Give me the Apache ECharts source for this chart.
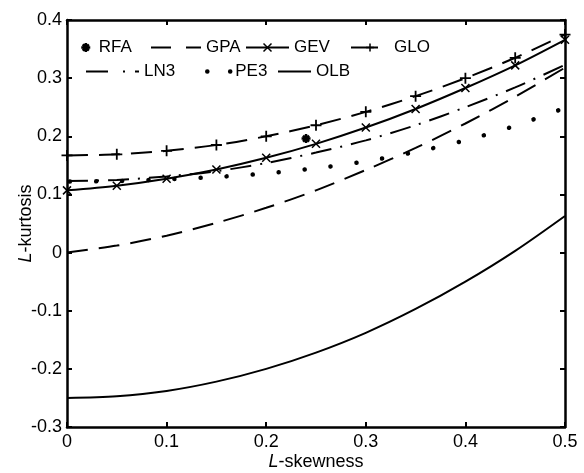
<!DOCTYPE html>
<html><head><meta charset="utf-8">
<script src="https://cdn.jsdelivr.net/npm/echarts@6/dist/echarts.min.js"></script>
<style>html,body{margin:0;padding:0;background:#fff}#c{width:584px;height:473px}</style>
</head><body><div id="c"></div>
<script>
// L-skewness grid
const skew = [0, 0.05, 0.1, 0.15, 0.2, 0.25, 0.3, 0.35, 0.4, 0.45, 0.5];
// L-kurtosis per distribution
const gpaK = [0, 0.012, 0.029, 0.051, 0.077, 0.107, 0.142, 0.180, 0.222, 0.268, 0.318];
const gevK = [0.107, 0.115, 0.127, 0.143, 0.163, 0.187, 0.215, 0.247, 0.283, 0.322, 0.366];
const gloK = [0.167, 0.169, 0.175, 0.185, 0.200, 0.219, 0.242, 0.269, 0.300, 0.335, 0.375];
const ln3K = [0.123, 0.125, 0.131, 0.140, 0.154, 0.172, 0.193, 0.219, 0.250, 0.284, 0.323];
const pe3K = [0.122, 0.123, 0.126, 0.130, 0.136, 0.145, 0.157, 0.173, 0.193, 0.218, 0.249];
const olbK = [-0.250, -0.247, -0.238, -0.222, -0.200, -0.172, -0.138, -0.097, -0.050, 0.003, 0.063];
// regional average point
const rfaPoint = [0.240, 0.196];
// axis ticks
const xTicks = {min: 0, max: 0.5, step: 0.1};
const yTicks = {min: -0.3, max: 0.4, step: 0.1};

const FONT = 'Liberation Sans, Arial, sans-serif';
const pairs = arr => skew.map((x, i) => [x, arr[i]]);
const PLUS = 'path://M0,5L10,5M5,0L5,10';
const CROSS = 'path://M0,0L10,10M0,10L10,0';
const AST = 'path://M5,0L5,10M0,5L10,5M1.6,1.6L8.4,8.4M1.6,8.4L8.4,1.6';
const fmt = v => String(+v.toFixed(1));

const axisBase = {
  type: 'value',
  axisLine: {show: true, onZero: false, lineStyle: {color: '#000', width: 2.5}},
  axisTick: {show: true, inside: true, length: 5, lineStyle: {color: '#000', width: 2}},
  splitLine: {show: false}
};
const nameStyle = {
  fontSize: 18, fontFamily: FONT, color: '#000',
  rich: {i: {fontStyle: 'italic', fontSize: 18, fontFamily: FONT, color: '#000'}}
};

const legTxt = {fontSize: 17, fontFamily: FONT, color: '#000'};
function leg(item, left, top, w, h) {
  return {data: [item], left: left, top: top, itemWidth: w, itemHeight: h || 10,
    padding: 0, selectedMode: false, textStyle: legTxt, symbolKeepAspect: true};
}

const option = {
  animation: false,
  backgroundColor: '#fff',
  grid: {left: 67, right: 19, top: 20, bottom: 46, containLabel: false, outerBoundsMode: 'none'},
  xAxis: [
    Object.assign({}, axisBase, {
      position: 'bottom', min: xTicks.min, max: xTicks.max, interval: xTicks.step,
      axisLabel: {formatter: fmt, color: '#000', fontSize: 18, fontFamily: FONT, margin: 6},
      name: '{i|L}-skewness', nameLocation: 'middle', nameGap: 26, nameMoveOverlap: false,
      nameTextStyle: nameStyle
    }),
    Object.assign({}, axisBase, {
      position: 'top', min: xTicks.min, max: xTicks.max, interval: xTicks.step,
      axisLabel: {show: false}
    })
  ],
  yAxis: [
    Object.assign({}, axisBase, {
      position: 'left', min: yTicks.min, max: yTicks.max, interval: yTicks.step,
      axisLabel: {formatter: fmt, color: '#000', fontSize: 18, fontFamily: FONT, margin: 5},
      name: '{i|L}-kurtosis', nameLocation: 'middle', nameGap: 32, nameMoveOverlap: false,
      nameTextStyle: nameStyle
    }),
    Object.assign({}, axisBase, {
      position: 'right', min: yTicks.min, max: yTicks.max, interval: yTicks.step,
      axisLabel: {show: false}
    })
  ],
  legend: [
    leg({name: 'RFA', itemStyle: {borderWidth: 2.5, opacity: 1}}, 80, 39, 16, 9),
    leg({name: 'GPA', lineStyle: {type: [20, 15], width: 2}, itemStyle: {opacity: 0}}, 150, 39, 50),
    leg({name: 'GEV', itemStyle: {borderWidth: 1.5}}, 245, 39, 43),
    leg({name: 'GLO', lineStyle: {type: [27, 20], width: 2}, itemStyle: {borderWidth: 1.5}}, 350, 39, 38),
    leg({name: 'LN3', lineStyle: {type: [22, 15, 2, 10], width: 2}, itemStyle: {opacity: 0}}, 85, 63, 53),
    leg({name: 'PE3', lineStyle: {type: [0.1, 22.8], width: 4.5, cap: 'round', dashOffset: 0}, itemStyle: {opacity: 0}}, 205, 63, 23),
    leg({name: 'OLB', lineStyle: {type: 'solid', width: 2}, itemStyle: {opacity: 0}}, 277, 63, 33)
  ],
  series: [
    {name: 'RFA', type: 'scatter', data: [rfaPoint], symbol: AST, symbolSize: 9, z: 5,
     itemStyle: {color: '#000', borderColor: '#000', borderWidth: 2.5, opacity: 1}},
    {name: 'GPA', type: 'line', data: pairs(gpaK), smooth: 0.3, symbol: 'none',
     lineStyle: {color: '#000', width: 2, type: [21, 11]}, itemStyle: {color: '#000'}},
    {name: 'GEV', type: 'line', data: pairs(gevK), smooth: 0.3, symbol: CROSS, symbolSize: 8, showAllSymbol: true,
     lineStyle: {color: '#000', width: 2, type: 'solid'},
     itemStyle: {color: '#000', borderColor: '#000', borderWidth: 1.5}},
    {name: 'GLO', type: 'line', data: pairs(gloK), smooth: 0.3, symbol: PLUS, symbolSize: 11, showAllSymbol: true,
     lineStyle: {color: '#000', width: 2, type: [21, 11]},
     itemStyle: {color: '#000', borderColor: '#000', borderWidth: 1.8}},
    {name: 'LN3', type: 'line', data: pairs(ln3K), smooth: 0.3, symbol: 'none',
     lineStyle: {color: '#000', width: 2, type: [21, 9, 2, 9]}, itemStyle: {color: '#000'}},
    {name: 'PE3', type: 'line', data: pairs(pe3K), smooth: 0.3, symbol: 'none',
     lineStyle: {color: '#000', width: 4.5, type: [0.1, 26], cap: 'round', dashOffset: 23}, itemStyle: {color: '#000'}},
    {name: 'OLB', type: 'line', data: pairs(olbK), smooth: 0.3, symbol: 'none',
     lineStyle: {color: '#000', width: 2, type: 'solid'}, itemStyle: {color: '#000'}}
  ]
};
const chart = echarts.init(document.getElementById('c'), null, {renderer: 'canvas'});
chart.setOption(option);
</script>
</body></html>
